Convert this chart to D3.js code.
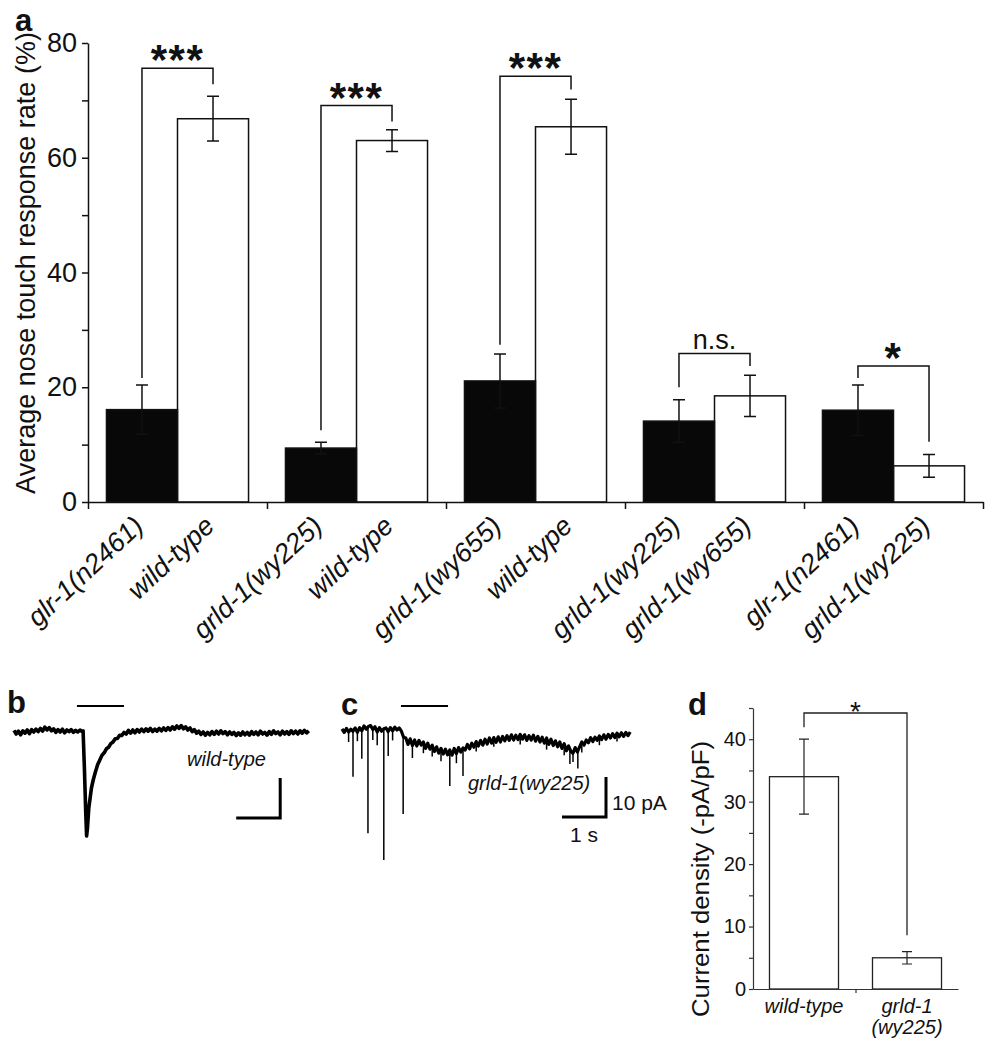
<!DOCTYPE html>
<html><head><meta charset="utf-8">
<script src="https://cdn.jsdelivr.net/npm/d3@7"></script>
<style>
body{margin:0;background:#fff}
svg{display:block;background:#fff}
text{font-family:"Liberation Sans",Arial,Helvetica,sans-serif;fill:#111}
</style>
</head><body>
<svg id="fig" width="992" height="1050"></svg>
<script>
// ---------------- Panel a data ----------------
const groups = ['G1','G2','G3','G4','G5'];
const blackLabels = ['glr-1(n2461)','grld-1(wy225)','grld-1(wy655)','grld-1(wy225)','glr-1(n2461)'];
const whiteLabels = ['wild-type','wild-type','wild-type','grld-1(wy655)','grld-1(wy225)'];
const blackMean = [16.1, 9.4, 21.1, 14.1, 16.0];
const blackErr  = [4.3, 1.0, 4.7, 3.7, 4.4];
const whiteMean = [66.8, 63.0, 65.4, 18.5, 6.3];
const whiteErr  = [3.9, 1.9, 4.8, 3.6, 2.0];
const sigLabels   = ['***','***','***','n.s.','*'];
const sigTop      = [75.6, 69.1, 74.2, 25.9, 23.7];
const sigLeftEnd  = [21.6, 12.5, 27.4, 20.0, 21.6];
const sigRightEnd = [72.8, 66.3, 71.9, 23.7, 10.5];
const aTicks = [0,10,20,30,40,50,60,70,80];
const aTickLabels = ['0','','20','','40','','60','','80'];
const aTitle = 'Average nose touch response rate (%)';

// ---------------- Panel b / c traces: [time s, current pA] ----------------
const traceB = [
[0.00,0.4],[0.05,-0.5],[0.10,0.2],[0.15,-0.7],[0.20,0.3],[0.25,-0.3],[0.30,0.5],[0.35,-0.4],[0.40,0.6],[0.45,0.0],
[0.50,0.7],[0.55,0.1],[0.60,0.9],[0.65,0.2],[0.70,1.2],[0.75,0.5],[0.80,1.1],[0.85,0.3],[0.90,0.8],[0.95,-0.1],
[1.00,0.6],[1.05,0.0],[1.10,0.7],[1.15,-0.2],[1.20,0.5],[1.25,0.1],[1.30,0.6],[1.35,-0.1],[1.40,0.4],[1.45,0.0],
[1.50,0.5],[1.55,0.1],[1.57,0.3],[1.60,-9],[1.63,-20],[1.65,-26],[1.67,-24],[1.70,-19],[1.73,-16.5],[1.76,-14],
[1.80,-12],[1.85,-10],[1.90,-8.2],[1.95,-7],[2.00,-5.8],[2.05,-5.2],[2.10,-4.2],[2.15,-3.8],[2.20,-2.9],[2.25,-2.5],
[2.30,-1.7],[2.35,-1.6],[2.40,-0.8],[2.45,-0.9],[2.50,-0.1],[2.55,-0.5],[2.60,0.4],[2.65,-0.3],[2.70,0.5],[2.75,-0.2],
[2.80,0.6],[2.85,0.0],[2.90,0.7],[2.95,0.1],[3.00,0.8],[3.05,0.2],[3.10,0.9],[3.15,0.1],[3.20,0.7],[3.25,0.2],
[3.30,0.9],[3.35,0.3],[3.40,1.0],[3.45,0.4],[3.50,1.1],[3.55,0.5],[3.60,1.3],[3.65,0.7],[3.70,1.5],[3.75,0.9],
[3.80,1.6],[3.85,0.8],[3.90,1.3],[3.95,0.5],[4.00,1.0],[4.05,0.1],[4.10,0.6],[4.15,-0.3],[4.20,0.2],[4.25,-0.6],
[4.30,0.0],[4.35,-0.8],[4.40,-0.1],[4.45,-0.7],[4.50,0.1],[4.55,-0.6],[4.60,0.2],[4.65,-0.5],[4.70,0.3],[4.75,-0.4],
[4.80,0.1],[4.85,-0.7],[4.90,0.0],[4.95,-0.6],[5.00,-0.1],[5.05,-0.9],[5.10,-0.2],[5.15,-0.8],[5.20,0.0],[5.25,-0.7],
[5.30,-0.1],[5.35,-0.8],[5.40,0.1],[5.45,-0.6],[5.50,0.0],[5.55,-0.7],[5.60,0.2],[5.65,-0.5],[5.70,-0.1],[5.75,-0.8],
[5.80,0.1],[5.85,-0.6],[5.90,0.3],[5.95,-0.4],[6.00,0.0],[6.05,-0.7],[6.10,0.2],[6.15,-0.5],[6.20,0.1],[6.25,-0.6],
[6.30,0.3],[6.35,-0.4],[6.40,0.2],[6.45,-0.5],[6.50,0.3],[6.55,-0.3],[6.60,0.4],[6.65,-0.2],[6.70,0.3]
];
// panel c: slow current (baseline) and fast downward events [time, start level, peak]
const traceC = [
[0.00,0.3],[0.05,-0.6],[0.10,0.4],[0.15,-0.5],[0.20,0.2],[0.25,-0.3],[0.30,0.5],[0.35,-0.6],[0.40,0.6],[0.45,-0.2],
[0.50,1.0],[0.55,0.2],[0.60,0.9],[0.65,1.1],[0.70,0.1],[0.75,0.8],[0.80,-0.5],[0.85,0.6],[0.90,-0.3],[0.95,0.3],
[1.00,0.5],[1.05,-0.4],[1.10,0.6],[1.15,-0.2],[1.20,0.7],[1.25,0.0],[1.30,0.5],[1.35,-0.3],[1.40,-1.8],[1.45,-2.0],
[1.50,-3.6],[1.55,-2.2],[1.60,-3.9],[1.65,-2.5],[1.70,-4.0],[1.75,-2.6],[1.80,-3.8],[1.85,-3.0],[1.90,-4.6],[1.95,-3.3],
[2.00,-4.8],[2.05,-3.8],[2.10,-5.4],[2.15,-4.2],[2.20,-5.8],[2.25,-4.6],[2.30,-6.0],[2.35,-4.8],[2.40,-6.2],[2.45,-5.0],
[2.50,-6.3],[2.55,-4.6],[2.60,-5.9],[2.65,-4.4],[2.70,-5.5],[2.75,-4.5],[2.80,-5.0],[2.85,-3.6],[2.90,-4.7],[2.95,-3.3],
[3.00,-4.3],[3.05,-2.9],[3.10,-4.0],[3.15,-2.6],[3.20,-3.8],[3.25,-2.3],[3.30,-3.5],[3.35,-2.0],[3.40,-3.3],[3.45,-1.9],
[3.50,-3.1],[3.55,-1.7],[3.60,-3.0],[3.65,-1.6],[3.70,-2.7],[3.75,-1.4],[3.80,-2.6],[3.85,-1.2],[3.90,-2.5],[3.95,-1.3],
[4.00,-2.4],[4.05,-1.1],[4.10,-2.3],[4.15,-1.2],[4.20,-2.6],[4.25,-1.4],[4.30,-2.5],[4.35,-1.3],[4.40,-2.8],[4.45,-1.6],
[4.50,-3.0],[4.55,-1.8],[4.60,-3.3],[4.65,-2.0],[4.70,-3.6],[4.75,-2.3],[4.80,-3.9],[4.85,-2.7],[4.90,-4.2],[4.95,-3.0],
[5.00,-4.6],[5.05,-3.4],[5.10,-5.2],[5.15,-4.0],[5.20,-5.3],[5.25,-5.8],[5.30,-4.4],[5.35,-5.5],[5.40,-4.2],[5.45,-3.0],
[5.50,-3.8],[5.55,-2.5],[5.60,-3.2],[5.65,-1.9],[5.70,-2.9],[5.75,-1.8],[5.80,-2.6],[5.85,-1.5],[5.90,-2.4],[5.95,-1.2],
[6.00,-2.3],[6.05,-1.1],[6.10,-2.0],[6.15,-0.9],[6.20,-1.9],[6.25,-0.8],[6.30,-1.7],[6.35,-0.7],[6.40,-1.6],[6.45,-0.6],
[6.50,-1.4],[6.55,-0.5]
];
const eventsC = [
[0.15,-0.5,-3.0],[0.25,-0.3,-11.7],[0.35,-0.6,-2.8],[0.45,-0.2,-7.2],[0.59,0.9,-25.8],[0.70,0.1,-2.5],
[0.80,-0.5,-3.8],[0.95,0.3,-32.5],[1.05,-0.4,-6.5],[1.15,-0.2,-2.6],[1.39,-1.0,-21.0],[1.60,-3.9,-7.0],
[1.85,-3.0,-5.8],[2.05,-3.8,-6.6],[2.25,-4.6,-7.8],[2.45,-5.0,-14.0],[2.60,-5.9,-8.3],[2.75,-4.5,-11.5],
[3.05,-2.9,-5.4],[3.45,-1.9,-4.2],[4.05,-1.1,-3.6],[4.65,-2.0,-4.9],[5.05,-3.4,-6.3],[5.18,-5.2,-8.5],
[5.25,-5.8,-8.0],[5.36,-5.5,-9.6],[5.45,-3.0,-5.6],[5.85,-1.5,-3.8],[6.25,-0.8,-2.9]
];
const stimB = [1.43, 2.50];
const stimC = [1.34, 2.41];
const scaleBarTime = 1;     // s
const scaleBarCurrent = 10; // pA
const labelB = 'wild-type';
const labelC = 'grld-1(wy225)';

// ---------------- Panel d data ----------------
const dCats = ['wild-type','grld-1(wy225)'];
const dCatLines = [['wild-type'],['grld-1','(wy225)']];
const dMean = [34, 5];
const dErr  = [6, 1];
const dSig = {label:'*', top:44.2, leftEnd:41.9, rightEnd:8.6};
const dTicks = [0,5,10,15,20,25,30,35,40,45];
const dTickLabels = ['0','','10','','20','','30','','40',''];
const dTitle = 'Current density (-pA/pF)';

// =====================================================
const svg = d3.select('#fig');
const INK = '#111';

// ---------------- Panel a ----------------
const xg = d3.scaleBand().domain(groups).range([88, 983]).padding(0);
const xi = d3.scaleBand().domain(['mut','wt']).range([0, xg.bandwidth()]).paddingInner(0).paddingOuter(0.26);
const ya = d3.scaleLinear().domain([0, 80]).range([502, 43]);
const xbound = d3.scaleLinear().domain([0, groups.length]).range([88, 983]);

const pa = svg.append('g');
groups.forEach((g, i) => {
  const xb = xg(g) + xi('mut'), xw = xg(g) + xi('wt'), bw = xi.bandwidth();
  pa.append('rect').attr('x', xw).attr('y', ya(whiteMean[i])).attr('width', bw)
    .attr('height', ya(0) - ya(whiteMean[i])).attr('fill', '#fff').attr('stroke', INK).attr('stroke-width', 1.5);
  pa.append('rect').attr('x', xb).attr('y', ya(blackMean[i])).attr('width', bw)
    .attr('height', ya(0) - ya(blackMean[i])).attr('fill', '#080808').attr('stroke', INK).attr('stroke-width', 1.5);
  const cb = xb + bw / 2, cw = xw + bw / 2;
  [[cb, blackMean[i], blackErr[i]], [cw, whiteMean[i], whiteErr[i]]].forEach(([cx, m, e]) => {
    pa.append('path').attr('d', `M${cx},${ya(m + e)}V${ya(m - e)}M${cx - 6},${ya(m + e)}H${cx + 6}M${cx - 6},${ya(m - e)}H${cx + 6}`)
      .attr('stroke', INK).attr('stroke-width', 1.5).attr('fill', 'none');
  });
  pa.append('path').attr('d', `M${cb},${ya(sigLeftEnd[i])}V${ya(sigTop[i])}H${cw}V${ya(sigRightEnd[i])}`)
    .attr('stroke', INK).attr('stroke-width', 1.5).attr('fill', 'none');
  const isStar = sigLabels[i].indexOf('*') >= 0;
  pa.append('text').attr('x', (cb + cw) / 2).attr('y', isStar ? ya(sigTop[i]) + 6 : ya(sigTop[i]) - 4)
    .attr('text-anchor', 'middle')
    .style('font-size', isStar ? '42px' : '27px').style('font-weight', isStar ? 'bold' : 'normal')
    .style('letter-spacing', isStar ? '1.5px' : '0px')
    .text(sigLabels[i]);
  [[cb, blackLabels[i]], [cw, whiteLabels[i]]].forEach(([cx, t]) => {
    pa.append('text').attr('transform', `translate(${cx + 3},528) rotate(-43)`)
      .attr('text-anchor', 'end').style('font-size', '27px').style('font-style', 'italic').text(t);
  });
});

const yAxisA = pa.append('g').attr('transform', 'translate(88,0)')
  .call(d3.axisLeft(ya).tickValues(aTicks).tickFormat((d, i) => aTickLabels[i]).tickSize(6).tickSizeOuter(0).tickPadding(5));
yAxisA.selectAll('path,line').attr('stroke', INK).attr('stroke-width', 1.5);
yAxisA.selectAll('text').style('font-size', '27px').attr('fill', INK).style('font-family', '"Liberation Sans",Arial,sans-serif');
const xAxisA = pa.append('g').attr('transform', `translate(0,${ya(0)})`)
  .call(d3.axisBottom(xbound).tickValues(d3.range(0, groups.length + 1)).tickFormat('').tickSize(7).tickSizeOuter(0));
xAxisA.selectAll('path,line').attr('stroke', INK).attr('stroke-width', 1.5);

pa.append('text').attr('transform', `translate(35,263) rotate(-90)`)
  .attr('text-anchor', 'middle').style('font-size', '27px').text(aTitle);
svg.append('text').attr('x', 15).attr('y', 31).style('font-size', '31px').style('font-weight', 'bold').text('a');

// ---------------- Panel b ----------------
const xB = d3.scaleLinear().domain([0, 6.7]).range([14, 14 + 6.7 * 44]);
const yB = d3.scaleLinear().domain([0, -10]).range([732, 772]);
const lineB = d3.line().x(d => xB(d[0])).y(d => yB(d[1]));
svg.append('path').attr('d', lineB(traceB)).attr('fill', 'none').attr('stroke', '#000')
  .attr('stroke-width', 3.6).attr('stroke-linejoin', 'round');
svg.append('line').attr('x1', xB(stimB[0])).attr('x2', xB(stimB[1])).attr('y1', yB(6.5)).attr('y2', yB(6.5))
  .attr('stroke', '#000').attr('stroke-width', 2);
{
  const t1 = 6.05, c1 = -21.5;
  svg.append('path').attr('d', `M${xB(t1 - scaleBarTime)},${yB(c1)}H${xB(t1)}V${yB(c1 + scaleBarCurrent)}`)
    .attr('fill', 'none').attr('stroke', '#000').attr('stroke-width', 3);
}
svg.append('text').attr('x', 187).attr('y', 766).style('font-size', '20px').style('font-style', 'italic').text(labelB);
svg.append('text').attr('x', 7).attr('y', 713).style('font-size', '31px').style('font-weight', 'bold').text('b');

// ---------------- Panel c ----------------
const xC = d3.scaleLinear().domain([0, 6.55]).range([342, 342 + 6.55 * 44]);
const yC = d3.scaleLinear().domain([0, -10]).range([730, 770]);
const lineC = d3.line().x(d => xC(d[0])).y(d => yC(d[1]));
svg.append('g').selectAll('line').data(eventsC).join('line')
  .attr('x1', d => xC(d[0])).attr('x2', d => xC(d[0])).attr('y1', d => yC(d[1])).attr('y2', d => yC(d[2]))
  .attr('stroke', '#000').attr('stroke-width', 1.5);
svg.append('path').attr('d', lineC(traceC)).attr('fill', 'none').attr('stroke', '#000')
  .attr('stroke-width', 3.2).attr('stroke-linejoin', 'round');
svg.append('line').attr('x1', xC(stimC[0])).attr('x2', xC(stimC[1])).attr('y1', yC(6)).attr('y2', yC(6))
  .attr('stroke', '#000').attr('stroke-width', 2);
{
  const t1 = 6.0, c1 = -21.75;
  svg.append('path').attr('d', `M${xC(t1 - scaleBarTime)},${yC(c1)}H${xC(t1)}V${yC(c1 + scaleBarCurrent)}`)
    .attr('fill', 'none').attr('stroke', '#000').attr('stroke-width', 3);
  svg.append('text').attr('x', xC(t1) + 6).attr('y', 810).style('font-size', '21px').text(scaleBarCurrent + ' pA');
  svg.append('text').attr('x', xC(t1 - scaleBarTime / 2)).attr('y', 842).attr('text-anchor', 'middle')
    .style('font-size', '21px').text(scaleBarTime + ' s');
}
svg.append('text').attr('x', 468).attr('y', 790).style('font-size', '20px').style('font-style', 'italic').text(labelC);
svg.append('text').attr('x', 341).attr('y', 715).style('font-size', '31px').style('font-weight', 'bold').text('c');

// ---------------- Panel d ----------------
const xd = d3.scaleBand().domain(dCats).range([753, 958]).paddingInner(0.33).paddingOuter(0.16);
const yd = d3.scaleLinear().domain([0, 45]).range([989, 708]);
const pd = svg.append('g');
dCats.forEach((c, i) => {
  pd.append('rect').attr('x', xd(c)).attr('y', yd(dMean[i])).attr('width', xd.bandwidth())
    .attr('height', yd(0) - yd(dMean[i])).attr('fill', '#fff').attr('stroke', '#222').attr('stroke-width', 1.3);
  const cx = xd(c) + xd.bandwidth() / 2;
  pd.append('path').attr('d', `M${cx},${yd(dMean[i] + dErr[i])}V${yd(dMean[i] - dErr[i])}M${cx - 5},${yd(dMean[i] + dErr[i])}H${cx + 5}M${cx - 5},${yd(dMean[i] - dErr[i])}H${cx + 5}`)
    .attr('stroke', '#222').attr('stroke-width', 1.2).attr('fill', 'none');
  dCatLines[i].forEach((ln, j) => {
    pd.append('text').attr('x', cx).attr('y', 1013 + j * 21).attr('text-anchor', 'middle')
      .style('font-size', '20px').style('font-style', 'italic').text(ln);
  });
});
{
  const lx = xd(dCats[0]) + xd.bandwidth() / 2, rx = xd(dCats[1]) + xd.bandwidth() / 2;
  pd.append('path').attr('d', `M${lx},${yd(dSig.leftEnd)}V${yd(dSig.top)}H${rx}V${yd(dSig.rightEnd)}`)
    .attr('stroke', '#222').attr('stroke-width', 1.3).attr('fill', 'none');
  pd.append('text').attr('x', (lx + rx) / 2).attr('y', yd(dSig.top) + 8).attr('text-anchor', 'middle')
    .style('font-size', '28px').text(dSig.label);
}
const yAxisD = pd.append('g').attr('transform', 'translate(753,0)')
  .call(d3.axisLeft(yd).tickValues(dTicks).tickFormat((d, i) => dTickLabels[i]).tickSize(4).tickSizeOuter(0).tickPadding(3));
yAxisD.selectAll('path,line').attr('stroke', '#333').attr('stroke-width', 1.2);
yAxisD.selectAll('text').style('font-size', '20px').attr('fill', INK).style('font-family', '"Liberation Sans",Arial,sans-serif');
const xAxisD = pd.append('g').attr('transform', `translate(0,${yd(0)})`)
  .call(d3.axisBottom(d3.scaleLinear().domain([0, 2]).range([753, 958])).tickValues([1]).tickFormat('').tickSize(4).tickSizeOuter(0));
xAxisD.selectAll('path,line').attr('stroke', '#333').attr('stroke-width', 1.2);
pd.append('text').attr('transform', `translate(709,879) rotate(-90)`).attr('text-anchor', 'middle')
  .style('font-size', '23px').attr('textLength', 276).attr('lengthAdjust', 'spacingAndGlyphs').text(dTitle);
svg.append('text').attr('x', 688).attr('y', 715).style('font-size', '31px').style('font-weight', 'bold').text('d');
</script>
</body></html>
